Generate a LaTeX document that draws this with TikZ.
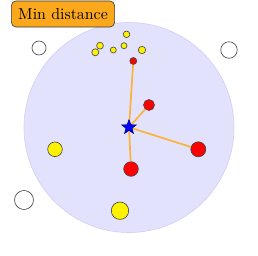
\documentclass[tikz,border=0pt]{standalone}
\usepackage{tikz}
\usetikzlibrary{shapes.geometric}
\usepackage{xcolor}
\definecolor{zorange}{RGB}{252, 168, 28}
\definecolor{zline}{RGB}{250, 180, 60}
\definecolor{zrange}{RGB}{226, 226, 252}
\definecolor{zrangeedge}{RGB}{208, 208, 248}
\definecolor{zgray}{RGB}{70, 70, 70}

\begin{document}
\begin{tikzpicture}[x=0.63pt, y=-0.63pt,
  label/.style={rectangle, rounded corners=3pt, draw=zgray!80!black, fill=zorange,
                inner xsep=4.3pt, inner ysep=4.7pt, font=\normalsize},
  near/.style={circle, draw=zgray, fill=red, inner sep=0pt},
  cand/.style={circle, draw=zgray, fill=yellow, inner sep=0pt},
  far/.style={circle, draw=zgray, fill=white, inner sep=0pt},
  link/.style={zline, line width=1.1pt},
  query/.style={star, star points=5, star point ratio=2.4, draw=blue!60!black,
                fill=blue, inner sep=0pt, minimum size=9.5pt}
]
\useasboundingbox (0,0) rectangle (258,255);

% search range
\fill[zrange, draw=zrangeedge] (129,127.5) circle (105);

\node[label] (title) at (63,14) {Min distance};

% points outside the range
\node[far, minimum size=14*0.63pt] (f1) at (39,48) {};
\node[far, minimum size=16.5*0.63pt] (f2) at (229,50) {};
\node[far, minimum size=19*0.63pt] (f3) at (24,200) {};

% candidates
\node[cand, minimum size=6.6*0.63pt] (c1) at (126.5,34.3) {};
\node[cand, minimum size=6.8*0.63pt] (c2) at (100,45.7) {};
\node[cand, minimum size=7*0.63pt] (c3) at (95.3,52.3) {};
\node[cand, minimum size=6*0.63pt] (c4) at (113.3,50) {};
\node[cand, minimum size=6*0.63pt] (c5) at (124,45.7) {};
\node[cand, minimum size=7.4*0.63pt] (c6) at (142,50) {};
\node[cand, minimum size=14.6*0.63pt] (c7) at (55,149.3) {};
\node[cand, minimum size=17.4*0.63pt] (c8) at (120,210.7) {};

% nearest points
\node[near, minimum size=7*0.63pt] (n1) at (133.3,61) {};
\node[near, minimum size=11*0.63pt] (n2) at (149,105) {};
\node[near, minimum size=15*0.63pt] (n3) at (198.3,149.3) {};
\node[near, minimum size=14.6*0.63pt] (n4) at (131,169) {};

\coordinate (q) at (129,127.3);
\draw[link] (q) -- (n1);
\draw[link] (q) -- (n2);
\draw[link] (q) -- (n3);
\draw[link] (q) -- (n4);

\node[query] (star) at (q) {};

\end{tikzpicture}
\end{document}
